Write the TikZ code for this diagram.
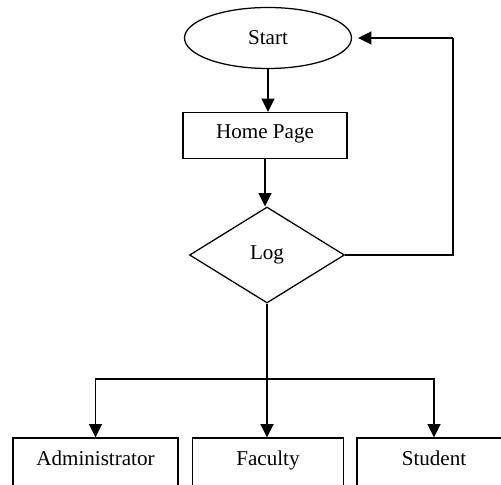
\documentclass[tikz,border=0pt]{standalone}
\usepackage{fontspec}
\setmainfont{Liberation Serif}
\usetikzlibrary{arrows.meta,shapes.geometric}

\tikzset{
    shp/.style={draw, line width=0.9pt, font=\fontsize{15}{18}\selectfont, inner sep=0pt},
    term/.style={shp, ellipse, minimum width=4.175cm, minimum height=1.525cm},
    box/.style={shp, rectangle, minimum height=1.15cm, text height=0.7em, text depth=0.22em},
    dec/.style={shp, diamond, minimum width=3.875cm, minimum height=2.4cm},
    conn/.style={line width=1.4pt, -{Triangle[length=0.33cm,width=0.32cm]}},
    wire/.style={line width=1.4pt}
}

\begin{document}
\begin{tikzpicture}

    \useasboundingbox (0,0) rectangle (12.525,12.125);

    % nodes (flow steps)
    \node[term] (start) at (6.7,11.175) {Start};
    \node[box, minimum width=4.1cm] (home) at (6.625,8.7375) {Home Page};
    \node[dec] (log) at (6.675,5.75) {Log};
    \node[box, minimum width=4.125cm, minimum height=1.2cm] (admin) at (2.3875,0.575) {Administrator};
    \node[box, minimum width=3.775cm, minimum height=1.2cm] (faculty) at (6.7,0.575) {Faculty};
    \node[box, minimum width=3.85cm, minimum height=1.2cm] (student) at (10.85,0.575) {Student};

    % helper points
    \coordinate (loop) at (11.325,11.175);
    \coordinate (bus) at (6.7,2.65);

	% edges
    \draw[conn] (start.south) -- (start.south |- home.north); % Start -> Home Page
    \draw[conn] (home.south) -- (home.south |- log.north); % Home Page -> Log
    \draw[wire] (log.east) -| (loop); % Log -> back up
    \draw[conn, shorten >=0.15cm] (loop) -- (start.east); % back to Start
    \draw[conn] (log.south) -- (log.south |- faculty.north); % Log -> Faculty
    \draw[conn] (bus) -| (admin.north); % Log -> Administrator
    \draw[conn] (bus) -| (student.north); % Log -> Student

\end{tikzpicture}
\end{document}
